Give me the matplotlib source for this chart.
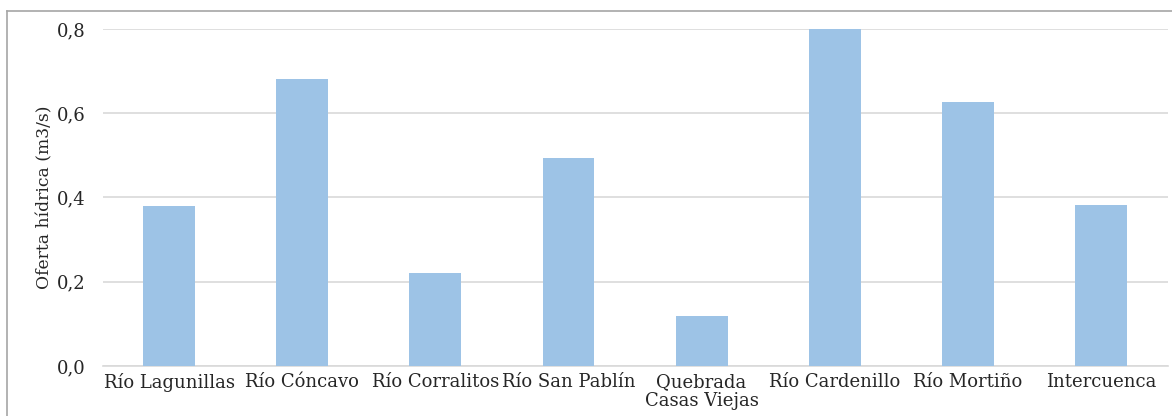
import matplotlib
matplotlib.use("Agg")
import matplotlib.pyplot as plt
from matplotlib.lines import Line2D

categories = ["Río Lagunillas", "Río Cóncavo", "Río Corralitos", "Río San Pablín",
              "Quebrada\nCasas Viejas", "Río Cardenillo", "Río Mortiño", "Intercuenca"]
values = [0.380, 0.681, 0.221, 0.494, 0.119, 0.800, 0.627, 0.382]
y_ticks = [0.0, 0.2, 0.4, 0.6, 0.8]
y_tick_labels = ["0,0", "0,2", "0,4", "0,6", "0,8"]

plt.rcParams["font.family"] = ["DejaVu Serif"]

fig = plt.figure(figsize=(11.72, 4.16), dpi=100)
ax = fig.add_axes([0.0875, 0.1202, 0.9087, 0.8101])

x = range(len(categories))
ax.bar(x, values, width=0.39, color="#9dc3e6", zorder=3)

ax.set_xlim(-0.5, len(categories) - 0.5)
ax.set_ylim(0, 0.8)
ax.set_yticks(y_ticks)
ax.set_yticklabels(y_tick_labels, fontsize=13, color="#262626")
ax.set_xticks(list(x))
ax.set_xticklabels(categories, fontsize=13, color="#262626", linespacing=1.08)
ax.tick_params(axis="both", length=0)
ax.tick_params(axis="y", pad=12)
ax.tick_params(axis="x", pad=5)

ax.grid(axis="y", color="#d9d9d9", linewidth=1.2, zorder=0)
for side in ["top", "right", "left"]:
    ax.spines[side].set_visible(False)
ax.spines["bottom"].set_color("#d9d9d9")
ax.spines["bottom"].set_linewidth(1.2)

ax.set_ylabel("Oferta hídrica (m3/s)", fontsize=12.3, color="#262626", labelpad=3)

# chart border (top and left edges)
fig.add_artist(Line2D([7 / 1172, 1.0], [1 - 11 / 416, 1 - 11 / 416],
                      transform=fig.transFigure, color="#a6a6a6", linewidth=1.2))
fig.add_artist(Line2D([7 / 1172, 7 / 1172], [0.0, 1 - 11 / 416],
                      transform=fig.transFigure, color="#a6a6a6", linewidth=1.2))

fig.savefig("out.png", dpi=100)
